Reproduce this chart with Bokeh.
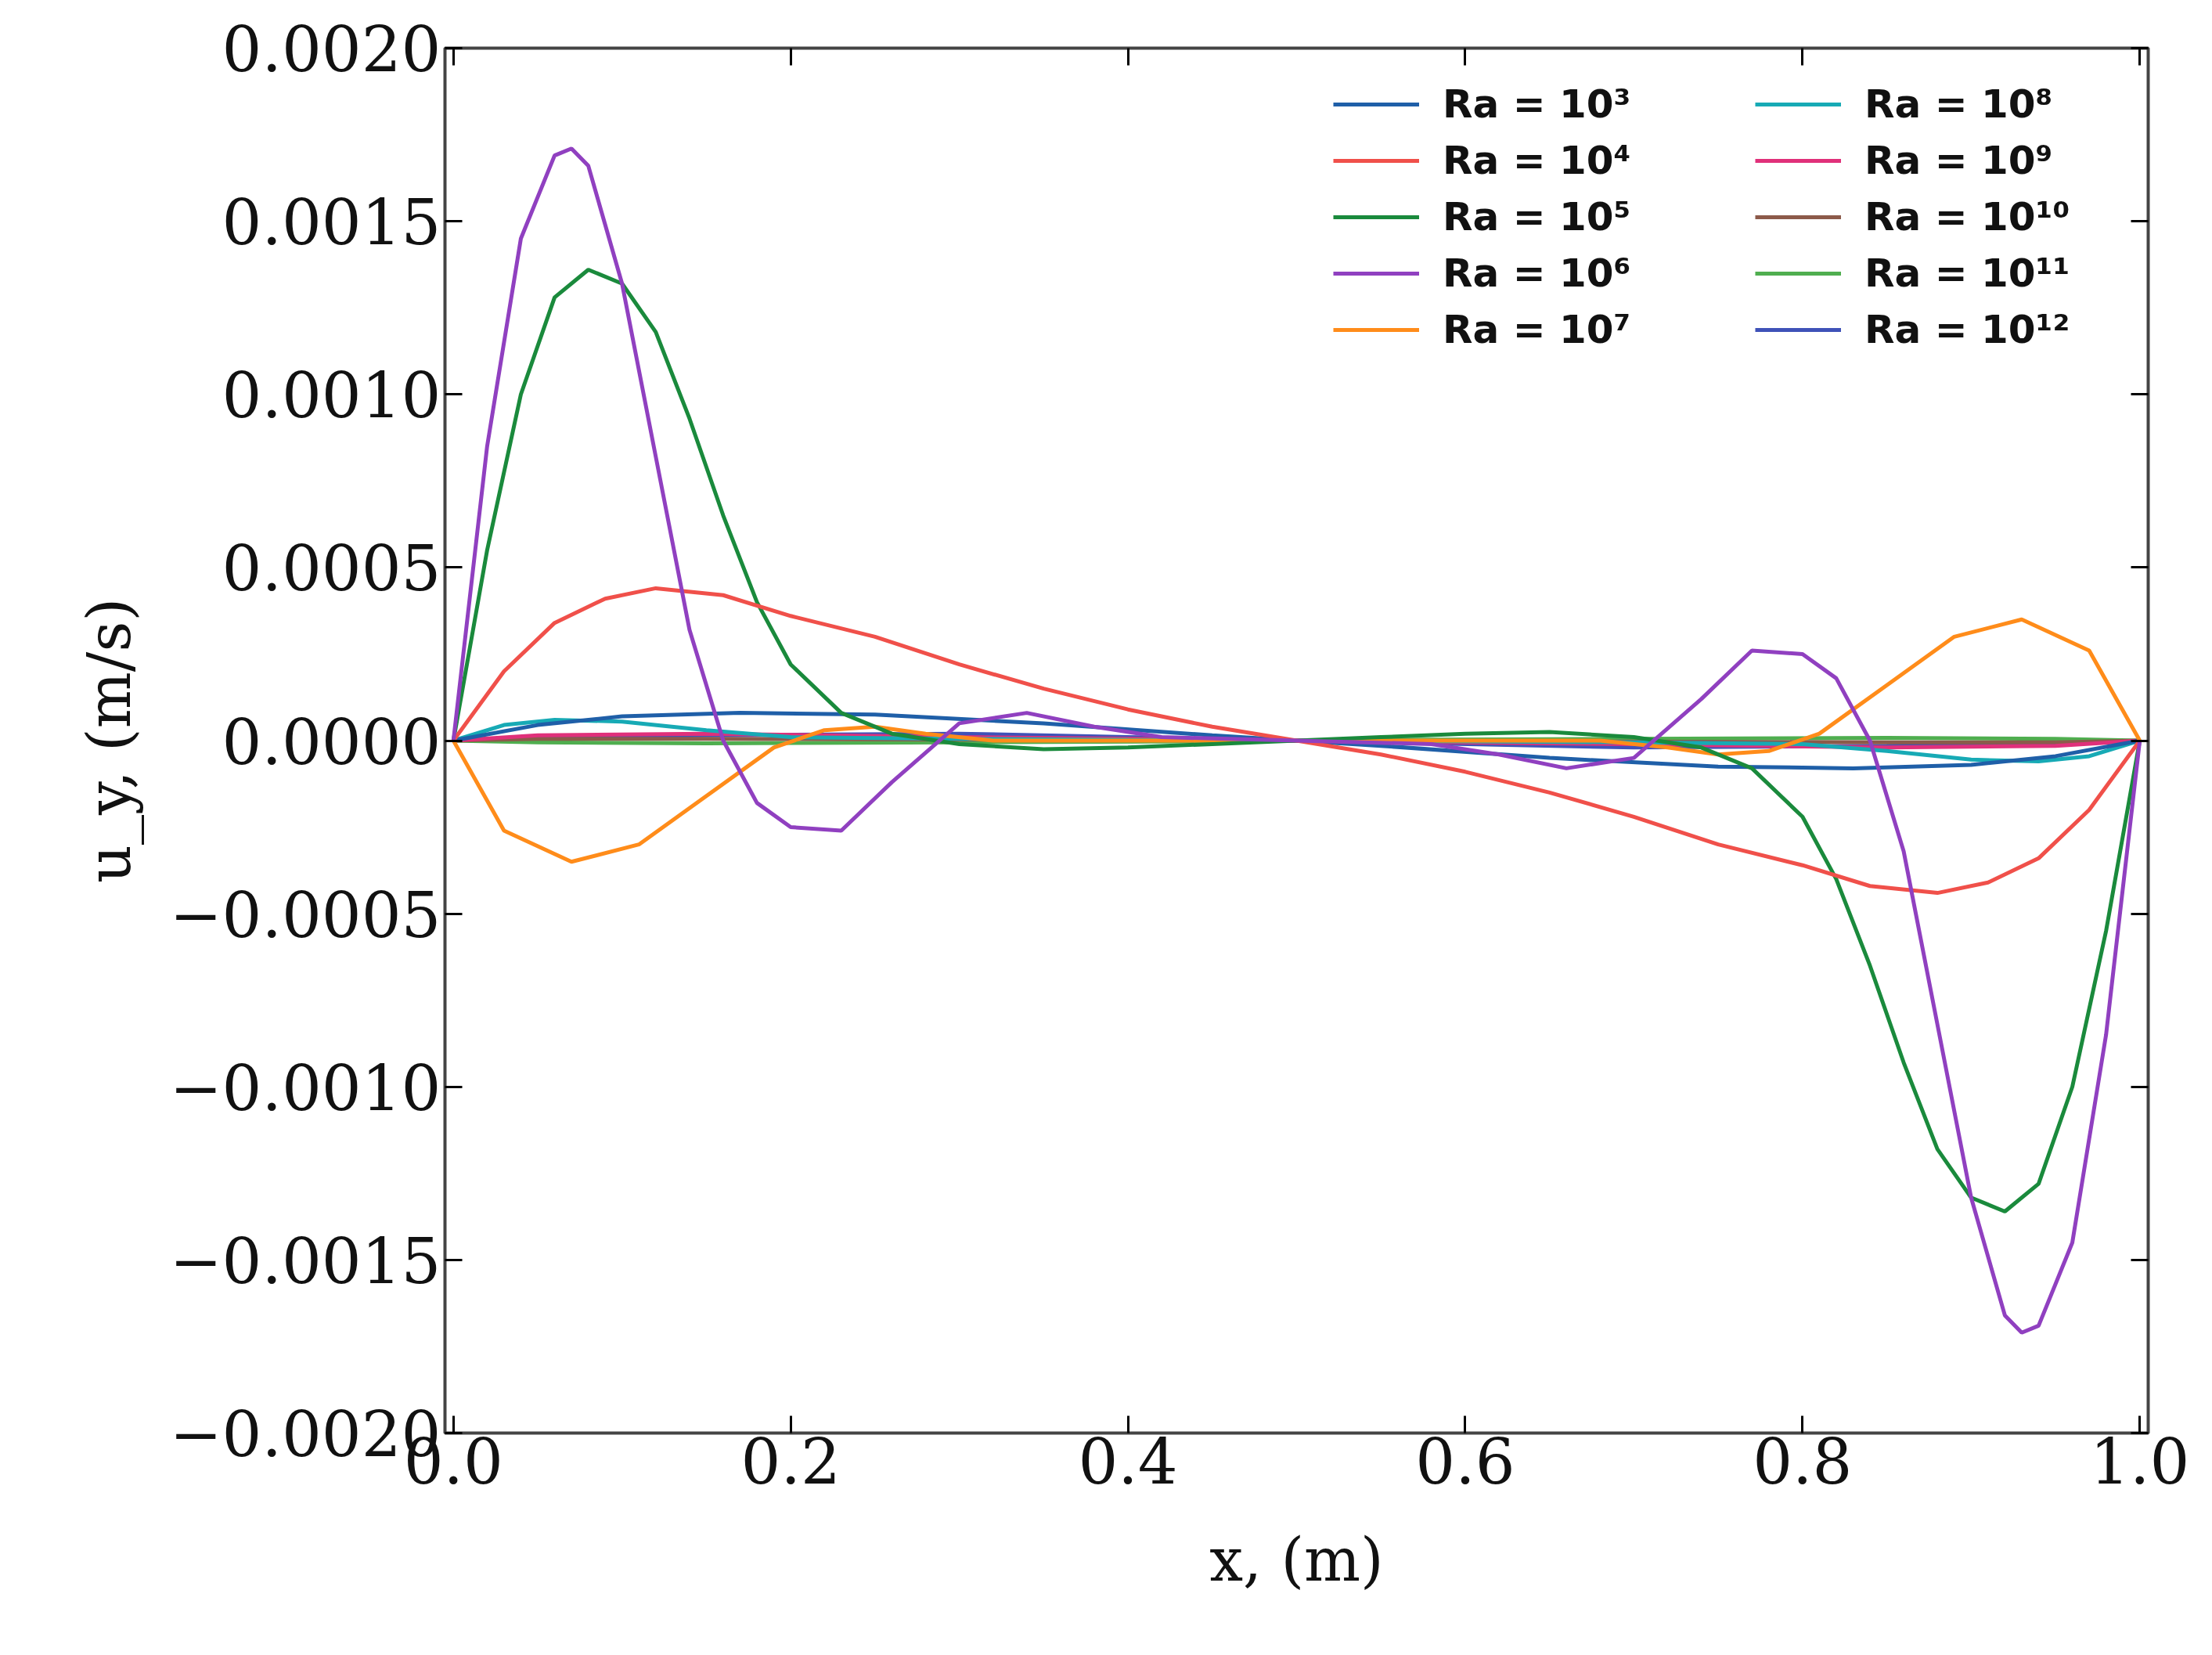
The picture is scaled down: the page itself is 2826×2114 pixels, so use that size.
import numpy as np
from bokeh.plotting import figure
from bokeh.models import Legend, LegendItem, LinearAxis, Range1d, FixedTicker
from bokeh.embed import file_html
from bokeh.resources import INLINE

# values in units of 1e-4 m/s
x1 = [0, 0.05, 0.1, 0.17, 0.25, 0.35, 0.45, 0.5, 0.55, 0.65, 0.75, 0.83, 0.9, 0.95, 1.0]
ra3 = [0, 0.45, 0.7, 0.8, 0.75, 0.5, 0.15, 0, -0.15, -0.5, -0.75, -0.8, -0.7, -0.45, 0]
x2 = [0, 0.03, 0.06, 0.09, 0.12, 0.16, 0.2, 0.25, 0.3, 0.35, 0.4, 0.45, 0.5, 0.55, 0.6, 0.65, 0.7, 0.75, 0.8, 0.84, 0.88, 0.91, 0.94, 0.97, 1.0]
ra4 = [0, 2.0, 3.4, 4.1, 4.4, 4.2, 3.6, 3.0, 2.2, 1.5, 0.9, 0.4, 0, -0.4, -0.9, -1.5, -2.2, -3.0, -3.6, -4.2, -4.4, -4.1, -3.4, -2.0, 0]
x3 = [0, 0.02, 0.04, 0.06, 0.08, 0.1, 0.12, 0.14, 0.16, 0.18, 0.2, 0.23, 0.26, 0.3, 0.35, 0.4, 0.45, 0.5, 0.55, 0.6, 0.65, 0.7, 0.74, 0.77, 0.8, 0.82, 0.84, 0.86, 0.88, 0.9, 0.92, 0.94, 0.96, 0.98, 1.0]
ra5 = [0, 5.5, 10.0, 12.8, 13.6, 13.2, 11.8, 9.3, 6.5, 4.0, 2.2, 0.8, 0.2, -0.1, -0.25, -0.2, -0.1, 0, 0.1, 0.2, 0.25, 0.1, -0.2, -0.8, -2.2, -4.0, -6.5, -9.3, -11.8, -13.2, -13.6, -12.8, -10.0, -5.5, 0]
x4 = [0, 0.02, 0.04, 0.06, 0.07, 0.08, 0.1, 0.12, 0.14, 0.16, 0.18, 0.2, 0.23, 0.26, 0.3, 0.34, 0.38, 0.42, 0.46, 0.5, 0.54, 0.58, 0.62, 0.66, 0.7, 0.74, 0.77, 0.8, 0.82, 0.84, 0.86, 0.88, 0.9, 0.92, 0.93, 0.94, 0.96, 0.98, 1.0]
ra6 = [0, 8.5, 14.5, 16.9, 17.1, 16.6, 13.2, 8.2, 3.2, 0.0, -1.8, -2.5, -2.6, -1.2, 0.5, 0.8, 0.4, 0.1, 0.05, 0, -0.05, -0.1, -0.4, -0.8, -0.5, 1.2, 2.6, 2.5, 1.8, 0.0, -3.2, -8.2, -13.2, -16.6, -17.1, -16.9, -14.5, -8.5, 0]
x5 = [0, 0.03, 0.07, 0.11, 0.15, 0.19, 0.22, 0.25, 0.28, 0.32, 0.4, 0.5, 0.6, 0.68, 0.72, 0.75, 0.78, 0.81, 0.85, 0.89, 0.93, 0.97, 1.0]
ra7 = [0, -2.6, -3.5, -3.0, -1.6, -0.2, 0.3, 0.4, 0.2, 0.0, 0.0, 0, 0.0, 0.0, -0.2, -0.4, -0.3, 0.2, 1.6, 3.0, 3.5, 2.6, 0]
x6 = [0, 0.03, 0.06, 0.1, 0.15, 0.2, 0.3, 0.4, 0.5, 0.6, 0.7, 0.8, 0.85, 0.9, 0.94, 0.97, 1.0]
ra8 = [0, 0.45, 0.6, 0.55, 0.3, 0.1, 0.05, 0.02, 0, -0.02, -0.05, -0.1, -0.3, -0.55, -0.6, -0.45, 0]
x7 = [0, 0.05, 0.15, 0.3, 0.45, 0.5, 0.55, 0.7, 0.85, 0.95, 1.0]
ra9 = [0, 0.15, 0.2, 0.1, 0.03, 0, -0.03, -0.1, -0.2, -0.15, 0]
ra10 = [0, 0.05, 0.05, 0.03, 0.01, 0, -0.01, -0.03, -0.05, -0.05, 0]
ra11 = [0, -0.05, -0.08, -0.05, -0.02, 0, 0.02, 0.05, 0.08, 0.05, 0]
ra12 = [0, 0.1, 0.15, 0.2, 0.05, 0, -0.05, -0.2, -0.15, -0.1, 0]

labels = ["Ra = 10³", "Ra = 10⁴", "Ra = 10⁵", "Ra = 10⁶", "Ra = 10⁷",
          "Ra = 10⁸", "Ra = 10⁹", "Ra = 10¹⁰", "Ra = 10¹¹", "Ra = 10¹²"]
colors = ["#1f5fa8", "#f0504a", "#1a8a3c", "#9040c0", "#ff8c1a",
          "#17aab5", "#e0307a", "#8c5a4a", "#4fae4f", "#3f52b8"]
series = [(x1, ra3), (x2, ra4), (x3, ra5), (x4, ra6), (x5, ra7),
          (x6, ra8), (x7, ra9), (x7, ra10), (x7, ra11), (x7, ra12)]

p = figure(width=2810, height=2098, output_backend="svg", toolbar_location=None,
           x_range=Range1d(-0.005, 1.005), y_range=Range1d(-0.002, 0.002),
           min_border_left=568, min_border_right=66, min_border_top=61, min_border_bottom=268)
p.grid.visible = False
p.outline_line_color = "#444444"
p.outline_line_width = 4

order = [9, 8, 7, 6, 5, 0, 4, 2, 1, 3]
rmap = {}
for i in order:
    xs, ys = series[i]
    rmap[i] = p.line(xs, [v * 1e-4 for v in ys], line_color=colors[i], line_width=5)
renderers = [rmap[i] for i in range(10)]

serif = "DejaVu Serif"
for ax in [p.xaxis[0], p.yaxis[0]]:
    ax.major_label_text_font = serif
    ax.major_label_text_font_size = "80px"
    ax.major_label_text_color = "#111111"
    ax.axis_label_text_font = serif
    ax.axis_label_text_font_size = "76px"
    ax.axis_label_text_color = "#111111"
    ax.axis_label_text_font_style = "normal"
    ax.major_tick_in = 22
    ax.major_tick_out = 0
    ax.minor_tick_in = 0
    ax.minor_tick_out = 0
    ax.major_tick_line_width = 3
    ax.axis_line_color = None
p.xaxis[0].axis_label_standoff = 50
p.yaxis[0].axis_label_standoff = 30
p.xaxis[0].ticker = FixedTicker(ticks=[0, 0.2, 0.4, 0.6, 0.8, 1.0])
p.xaxis[0].major_label_overrides = {0: "0.0", 0.2: "0.2", 0.4: "0.4", 0.6: "0.6", 0.8: "0.8", 1.0: "1.0"}
yt = [-0.002, -0.0015, -0.001, -0.0005, 0, 0.0005, 0.001, 0.0015, 0.002]
p.yaxis[0].ticker = FixedTicker(ticks=yt)
p.yaxis[0].major_label_overrides = {t: ("%.4f" % t).replace("-", "\u2212") for t in yt}
p.xaxis[0].axis_label = "x, (m)"
p.yaxis[0].axis_label = "u_y, (m/s)"

for side, tk in [("above", [0, 0.2, 0.4, 0.6, 0.8, 1.0]), ("right", yt)]:
    a = LinearAxis(ticker=FixedTicker(ticks=tk), major_label_text_font_size="0px",
                   major_tick_in=22, major_tick_out=0, minor_tick_in=0, minor_tick_out=0,
                   major_tick_line_width=3, axis_line_color=None)
    p.add_layout(a, side)

common = dict(label_text_font="DejaVu Sans", label_text_font_style="bold",
              label_text_font_size="50px", label_text_color="#111111",
              glyph_width=110, glyph_height=30,
              border_line_color=None, background_fill_alpha=0, spacing=14,
              label_standoff=30, padding=0, margin=0)
l1 = Legend(items=[LegendItem(label=labels[i], renderers=[renderers[i]]) for i in range(5)],
            location=(1135, 1380), **common)
l2 = Legend(items=[LegendItem(label=labels[i], renderers=[renderers[i]]) for i in range(5, 10)],
            location=(1674, 1380), **common)
p.add_layout(l1, "center")
p.add_layout(l2, "center")

open("out.html", "w").write(file_html(p, INLINE))
